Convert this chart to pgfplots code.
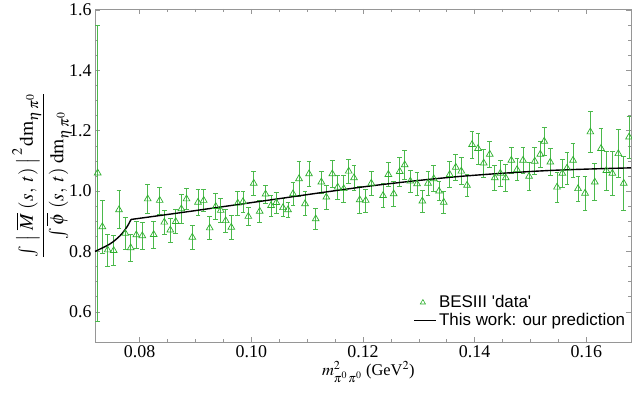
\documentclass[border=0pt]{standalone}
\usepackage{amsmath}
\usepackage{mathptmx}
\usepackage{fontspec}
\setmainfont{Liberation Serif}
\newfontfamily\legendfont{Liberation Sans}
\usepackage{pgfplots}
\pgfplotsset{compat=1.18}
\usepackage{pgfplotstable}

\definecolor{besgreen}{RGB}{45,175,45}
\definecolor{barsgreen}{RGB}{75,185,75}
\definecolor{framegray}{RGB}{150,150,150}

\pgfplotsset{longline/.style={legend image code/.code={\draw[##1] (0bp,0bp) -- (22bp,0bp);}}}

% BESIII points: x, ratio, error
\pgfplotstableread{
x y e
0.07248 1.060 0.490
0.07331 0.882 0.088
0.07427 0.805 0.053
0.07535 0.803 0.050
0.07630 0.938 0.063
0.07743 0.860 0.054
0.07839 0.812 0.045
0.07940 0.855 0.045
0.08047 0.852 0.045
0.08144 0.974 0.047
0.08251 0.856 0.045
0.08359 0.969 0.045
0.08441 0.897 0.040
0.08549 0.871 0.040
0.08646 0.899 0.040
0.08746 0.941 0.047
0.08839 0.974 0.035
0.08943 0.847 0.040
0.09045 0.963 0.043
0.09147 0.969 0.037
0.09255 0.878 0.039
0.09362 0.949 0.042
0.09452 0.936 0.039
0.09541 0.902 0.039
0.09641 0.880 0.039
0.09756 0.960 0.040
0.09851 0.965 0.035
0.09946 0.916 0.030
0.10043 1.026 0.040
0.10150 0.933 0.036
0.10254 0.990 0.030
0.10353 0.952 0.035
0.10447 0.962 0.035
0.10567 0.945 0.030
0.10657 0.938 0.025
0.10747 0.991 0.039
0.10854 1.041 0.059
0.10962 0.958 0.040
0.11033 1.057 0.042
0.11153 0.908 0.035
0.11254 1.030 0.037
0.11343 0.980 0.040
0.11450 1.057 0.044
0.11547 1.013 0.039
0.11655 1.008 0.044
0.11744 1.066 0.040
0.11839 1.044 0.042
0.11941 0.971 0.044
0.12049 0.969 0.038
0.12149 1.026 0.040
0.12359 0.985 0.040
0.12454 1.055 0.040
0.12550 0.991 0.040
0.12658 1.065 0.048
0.12747 1.087 0.048
0.12848 1.033 0.037
0.12968 1.024 0.039
0.13063 0.967 0.036
0.13165 1.026 0.040
0.13267 1.041 0.043
0.13362 1.000 0.032
0.13446 0.963 0.036
0.13553 1.055 0.042
0.13661 1.079 0.042
0.13761 1.066 0.045
0.13863 1.019 0.035
0.13953 1.154 0.044
0.14060 1.141 0.051
0.14162 1.093 0.046
0.14270 1.122 0.042
0.14360 1.044 0.040
0.14460 1.059 0.044
0.14556 1.044 0.044
0.14657 1.102 0.044
0.14759 1.071 0.036
0.14866 1.102 0.044
0.14974 1.049 0.046
0.15076 1.099 0.045
0.15176 1.122 0.042
0.15246 1.165 0.047
0.15355 1.096 0.045
0.15475 1.013 0.050
0.15570 1.059 0.047
0.15654 1.076 0.053
0.15762 1.102 0.055
0.15851 1.008 0.042
0.15977 0.993 0.056
0.16072 1.196 0.069
0.16151 1.030 0.061
0.16263 1.141 0.066
0.16358 1.068 0.064
0.16466 1.059 0.072
0.16573 1.124 0.080
0.16670 1.026 0.089
0.16765 1.179 0.070
}\besdata

\begin{document}
\begin{tikzpicture}
\useasboundingbox (-95bp,-55bp) rectangle (537bp,342bp);
\begin{axis}[
    scale only axis,
    width=536bp,
    height=333bp,
    xmin=0.072, xmax=0.168,
    ymin=0.5, ymax=1.6033,
    axis line style={framegray, line width=0.6pt},
    tick align=inside,
    xtick={0.08,0.10,0.12,0.14,0.16},
    ytick={0.6,0.8,1.0,1.2,1.4,1.6},
    minor x tick num=3,
    minor y tick num=3,
    tick style={framegray, line width=0.6pt},
    major tick length=5bp,
    minor tick length=3bp,
    scaled x ticks=false,
    /pgf/number format/assume math mode=true,
    xticklabel style={/pgf/number format/.cd, fixed, fixed zerofill, precision=2},
    yticklabel style={/pgf/number format/.cd, fixed, fixed zerofill, precision=1},
    tick label style={font=\fontsize{18}{20}\selectfont},
    xlabel={$m^2_{\pi^0\,\pi^0}$ (GeV$^2$)},
    xlabel style={font=\fontsize{16.5}{18}\selectfont, at={(axis description cs:0.51,-0.09)}, anchor=center},
    ylabel={$\dfrac{\int\;\bigl|\;\overline{M}\;(s,\;t)\;\bigr|^{\,2}\,\mathrm{dm}_{\eta\,\pi^0}}{\int\overline{\phi}\;(s,\;t)\;\mathrm{dm}_{\eta\,\pi^0}}$},
    ylabel style={font=\fontsize{19.5}{23}\selectfont, at={(axis description cs:-0.099,0.5)}, anchor=center},
    legend style={at={(axis description cs:0.995,0.035)}, anchor=south east, draw=none, fill=none,
        font=\legendfont\fontsize{17}{19}\selectfont, row sep=0pt, inner sep=1pt},
    legend cell align=left,
    clip=false,
]

\addlegendimage{only marks, mark=triangle, mark size=3bp, besgreen, line width=0.6pt}
\addlegendentry{BESIII \textquotesingle data\textquotesingle}

\addplot[only marks, mark=triangle, mark size=3.9bp, besgreen, forget plot,
    mark options={line width=0.7pt},
    error bars/.cd, y dir=both, y explicit,
    error bar style={barsgreen, line width=0.7pt},
    error mark options={rotate=90, barsgreen, mark size=2.4bp, line width=0.7pt},
] table[x=x, y=y, y error=e] {\besdata};

\addplot[black, line width=1.4bp, smooth, forget plot] coordinates {
    (0.07200,0.800) (0.07469,0.825) (0.07648,0.852) (0.07768,0.880) (0.07845,0.906)
};

\addplot[black, line width=1.4bp, smooth, longline] coordinates {
    (0.07845,0.906) (0.0887,0.932) (0.1016,0.966) (0.1209,1.016) (0.1370,1.048) (0.1531,1.068) (0.1680,1.077)
};
\addlegendentry{This work: our prediction}

\end{axis}
\end{tikzpicture}
\end{document}
